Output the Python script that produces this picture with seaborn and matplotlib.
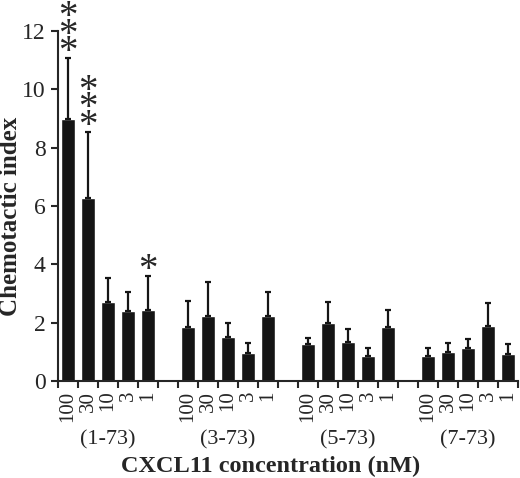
import pandas as pd
import numpy as np
import matplotlib.pyplot as plt
import seaborn as sns

# CXCL11 chemotaxis data
groups = ["(1-73)", "(3-73)", "(5-73)", "(7-73)"]
concs = ["100", "30", "10", "3", "1"]

means_1_73 = [9.0, 6.27, 2.71, 2.40, 2.43]
means_3_73 = [1.85, 2.23, 1.51, 0.96, 2.23]
means_5_73 = [1.27, 1.99, 1.34, 0.86, 1.85]
means_7_73 = [0.86, 1.00, 1.13, 1.89, 0.93]

err_1_73 = [2.07, 2.27, 0.82, 0.65, 1.17]
err_3_73 = [0.89, 1.16, 0.49, 0.34, 0.82]
err_5_73 = [0.20, 0.72, 0.44, 0.27, 0.58]
err_7_73 = [0.27, 0.30, 0.31, 0.78, 0.34]

stars_1_73 = ["***", "***", "", "", "*"]
stars_other = ["", "", "", "", ""]

means = [means_1_73, means_3_73, means_5_73, means_7_73]
errs = [err_1_73, err_3_73, err_5_73, err_7_73]
stars = [stars_1_73, stars_other, stars_other, stars_other]

# build long table + category order with empty gap slots between groups
rows = []
order = []
for gi, g in enumerate(groups):
    for ci, c in enumerate(concs):
        key = f"{g} {c}"
        order.append(key)
        rows.append({"key": key, "group": g, "conc": c,
                     "mean": means[gi][ci], "err": errs[gi][ci],
                     "stars": stars[gi][ci]})
    if gi < len(groups) - 1:
        order.append(f"gap{gi}")
df = pd.DataFrame(rows)

sns.set_style("ticks")
plt.rcParams['font.family'] = ['Liberation Serif', 'DejaVu Serif']

fig = plt.figure(figsize=(5.2, 4.78), dpi=100)
ax = fig.add_axes([0.1115, 0.2029, 0.8846, 0.7322])

sns.barplot(data=df, x="key", y="mean", order=order, color="#151515",
            saturation=1, width=0.7, errorbar=None, ax=ax)

xs = np.array([order.index(k) for k in df["key"]])
ax.errorbar(xs, df["mean"], yerr=[np.zeros(len(df)), df["err"]], fmt="none",
            ecolor="#151515", elinewidth=1.6, capsize=2.5, capthick=1.6)

# significance stars stacked above the error bars (one text per bar)
for x, top, s in zip(xs, df["mean"] + df["err"], df["stars"]):
    if s:
        ax.annotate("\n".join(s), (x, top), xytext=(0, -9.5), textcoords="offset points",
                    ha="center", va="bottom", fontsize=28, linespacing=0.31,
                    annotation_clip=False)

ax.set_ylim(0, 12)
ax.set_yticks(range(0, 13, 2))
ax.set_xlim(-0.5, len(order) - 0.5)

ax.set_xticks(xs)
ax.set_xticklabels(df["conc"], rotation=90, fontsize=15)
ax.set_xticks(np.arange(-0.5, len(order), 1), minor=True)
ax.tick_params(axis="x", which="major", length=0, pad=7)
ax.tick_params(axis="x", which="minor", length=5, width=1.5, direction="out")
ax.tick_params(axis="y", length=5, width=1.5, direction="out", labelsize=17, pad=4)

for g in groups:
    center = xs[df["group"] == g].mean()
    ax.text(center, -0.169, g, transform=ax.get_xaxis_transform(),
            ha="center", va="center", fontsize=16)

ax.set_xlabel("CXCL11 concentration (nM)", fontsize=17.5, fontweight="bold")
ax.xaxis.set_label_coords(0.463, -0.215)
ax.set_ylabel("Chemotactic index", fontsize=18, fontweight="bold")
ax.yaxis.set_label_coords(-0.078, 0.471)

sns.despine(ax=ax)
for sp in ["left", "bottom"]:
    ax.spines[sp].set_linewidth(1.5)

fig.savefig("out.png", dpi=100)
